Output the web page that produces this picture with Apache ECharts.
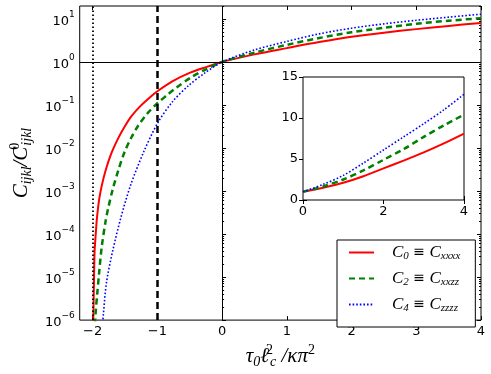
<!DOCTYPE html>
<html>
<head>
<meta charset="utf-8">
<script src="https://cdn.jsdelivr.net/npm/echarts@6/dist/echarts.min.js"></script>
<style>
html, body { margin: 0; padding: 0; background: #fff; }
#chart { width: 491px; height: 374px; }
</style>
</head>
<body>
<div id="chart"></div>
<script>
// values
var redX = [-1.993, -1.99, -1.98, -1.97, -1.95, -1.935, -1.9, -1.86, -1.8, -1.71, -1.6, -1.5, -1.4, -1.26, -1.1, -1.0, -0.77, -0.52, -0.27, 0, 0.5, 1, 1.5, 2, 2.5, 3, 3.5, 4];
var redY = [7.9e-7, 1.12e-6, 7.6e-6, 4.0e-5, 1.12e-4, 2.24e-4, 6.3e-4, 1.32e-3, 3.0e-3, 7.6e-3, 0.0174, 0.0324, 0.055, 0.0955, 0.158, 0.209, 0.355, 0.543, 0.741, 1, 1.5, 2.1, 2.9, 3.85, 4.8, 5.8, 6.9, 8.1];

var greenX = [-1.965, -1.95, -1.93, -1.9, -1.86, -1.8, -1.76, -1.69, -1.6, -1.51, -1.4, -1.3, -1.15, -1.0, -0.85, -0.72, -0.47, -0.25, 0, 0.5, 1, 1.5, 2, 2.5, 3, 3.5, 4];
var greenY = [7.9e-7, 1.78e-6, 3.98e-6, 1.26e-5, 5.0e-5, 2.0e-4, 3.98e-4, 1.1e-3, 3.16e-3, 7.9e-3, 0.0178, 0.0324, 0.0646, 0.11, 0.17, 0.245, 0.447, 0.676, 1, 1.65, 2.5, 3.6, 4.9, 6.2, 7.7, 9.1, 10.4];

var blueX = [-1.85, -1.835, -1.786, -1.687, -1.564, -1.415, -1.217, -1.0, -0.77, -0.52, -0.27, 0, 0.5, 1, 1.5, 2, 2.5, 3, 3.5, 4];
var blueY = [7.1e-7, 1.32e-6, 7.6e-6, 4.27e-5, 2.4e-4, 1.35e-3, 7.76e-3, 0.0372, 0.1175, 0.282, 0.55, 1, 1.9, 3.0, 4.5, 6.1, 7.7, 9.3, 11.0, 12.9];

var seriesNames = ['C0', 'C2', 'C4'];
var legendText = {
  C0: '{i|C}{s|0}{r| ≡ }{i|C}{s|xxxx}',
  C2: '{i|C}{s|2}{r| ≡ }{i|C}{s|xxzz}',
  C4: '{i|C}{s|4}{r| ≡ }{i|C}{s|zzzz}'
};

var xTicks = [-2, -1, 0, 1, 2, 3, 4];
var yDecades = [1e-6, 1e-5, 1e-4, 1e-3, 1e-2, 1e-1, 1, 10];
var insetXTicks = [0, 2, 4];
var insetYTicks = [0, 5, 10, 15];
var refX = [-2, -1, 0];
var refY = 1;

var yMinor = [];
yDecades.forEach(function (d) {
  for (var k = 2; k <= 9; k++) {
    if (k * d <= 20) yMinor.push(k * d);
  }
});

function pairs(xs, ys) {
  return xs.map(function (x, i) { return [x, ys[i]]; });
}
function positive(xs, ys) {
  return pairs(xs, ys).filter(function (p) { return p[0] >= 0; });
}

var myChart = echarts.init(document.getElementById('chart'), null, { renderer: 'canvas' });

var mathRich = {
  i: { fontFamily: 'Liberation Serif', fontStyle: 'italic', fontSize: 21, lineHeight: 26, color: '#000' },
  sub: { fontFamily: 'Liberation Serif', fontStyle: 'italic', fontSize: 14, lineHeight: 14, verticalAlign: 'bottom', color: '#000' },
  sup: { fontFamily: 'Liberation Serif', fontSize: 14, lineHeight: 14, verticalAlign: 'top', color: '#000' },
  supz: { fontFamily: 'Liberation Serif', fontSize: 14, lineHeight: 14, verticalAlign: 'top', width: 1, color: '#000' }
};

function logLabel(v) {
  var e = Math.round(Math.log10(v));
  return '{b|10}{e|' + String(e).replace('-', '\u2212') + '}';
}

function tickAxis(gridIndex, type, pos, min, max, ticks, len, extra) {
  var a = {
    type: type,
    gridIndex: gridIndex,
    position: pos,
    min: min,
    max: max,
    axisLine: { show: false },
    splitLine: { show: false },
    axisLabel: { show: false },
    axisTick: { show: true, inside: true, length: len, customValues: ticks, lineStyle: { color: '#000', width: 1 } }
  };
  if (type === 'log') a.logBase = 10;
  return Object.assign(a, extra || {});
}

var lineStyles = [
  { color: '#ff0000', width: 2, type: 'solid' },
  { color: '#008000', width: 2.5, type: [6, 4] },
  { color: '#0000ff', width: 1.6, type: [1.6, 2] }
];
var mainData = [pairs(redX, redY), pairs(greenX, greenY), pairs(blueX, blueY)];
var insetData = [positive(redX, redY), positive(greenX, greenY), positive(blueX, blueY)];

var series = [];
seriesNames.forEach(function (name, i) {
  var s = {
    name: name,
    type: 'line',
    xAxisIndex: 0,
    yAxisIndex: 0,
    data: mainData[i],
    symbol: 'none',
    smooth: 0.3,
    clip: true,
    color: lineStyles[i].color,
    lineStyle: lineStyles[i],
    z: 3
  };
  if (i === 0) {
    s.markLine = {
      silent: true,
      symbol: 'none',
      label: { show: false },
      animation: false,
      data: [
        { xAxis: refX[0], lineStyle: { color: '#000', width: 1.8, type: [1.5, 2.5] } },
        { xAxis: refX[1], lineStyle: { color: '#000', width: 2.5, type: [7, 4] } },
        { xAxis: refX[2], lineStyle: { color: '#000', width: 1, type: 'solid' } },
        { yAxis: refY, lineStyle: { color: '#000', width: 1, type: 'solid' } }
      ]
    };
  }
  series.push(s);
});
seriesNames.forEach(function (name, i) {
  series.push({
    name: name,
    type: 'line',
    xAxisIndex: 2,
    yAxisIndex: 4,
    data: insetData[i],
    symbol: 'none',
    smooth: 0.3,
    color: lineStyles[i].color,
    lineStyle: lineStyles[i],
    z: 5
  });
});

var option = {
  animation: false,
  backgroundColor: '#fff',
  grid: [
    { left: 63, right: 10, top: 6, bottom: 45, show: true, borderColor: '#000', borderWidth: 1, backgroundColor: 'transparent' },
    { left: 303, width: 161, top: 77, height: 123, show: true, borderColor: '#000', borderWidth: 1, backgroundColor: '#fff', z: 4 }
  ],
  legend: {
    data: seriesNames,
    orient: 'vertical',
    left: 337,
    top: 240,
    padding: [4, 15, 13, 11],
    itemGap: 8,
    itemWidth: 25,
    itemHeight: 14,
    itemStyle: { opacity: 0 },
    backgroundColor: '#fff',
    borderColor: '#000',
    borderWidth: 1,
    borderRadius: 0,
    z: 10,
    formatter: function (name) { return legendText[name]; },
    textStyle: {
      padding: [0, 0, 0, 13],
      rich: {
        i: { fontFamily: 'Liberation Serif', fontStyle: 'italic', fontSize: 17, lineHeight: 19, color: '#000' },
        r: { fontFamily: 'DejaVu Sans', fontSize: 14, lineHeight: 19, color: '#000' },
        s: { fontFamily: 'Liberation Serif', fontStyle: 'italic', fontSize: 11, lineHeight: 11, verticalAlign: 'bottom', color: '#000' }
      }
    }
  },
  xAxis: [
    tickAxis(0, 'value', 'bottom', -2.2, 4, xTicks, 4, {
      axisLabel: {
        show: true, margin: 5, customValues: xTicks,
        formatter: function (v) { return String(v).replace('-', '\u2212'); },
        fontFamily: 'DejaVu Sans', fontSize: 13, color: '#000'
      },
      name: '{i|τ}{sub|0}{i|ℓ}{supz|2}{sub|c}{i| /κπ}{sup|2}',
      nameLocation: 'middle',
      nameGap: 19,
      nameTextStyle: { rich: mathRich }
    }),
    tickAxis(0, 'value', 'top', -2.2, 4, xTicks, 4),
    tickAxis(1, 'value', 'bottom', 0, 4, insetXTicks, 4, {
      axisLabel: { show: true, margin: 5, customValues: insetXTicks, fontFamily: 'DejaVu Sans', fontSize: 13, color: '#000' }
    }),
    tickAxis(1, 'value', 'top', 0, 4, insetXTicks, 4)
  ],
  yAxis: [
    tickAxis(0, 'log', 'left', 1e-6, 20, yDecades, 4, {
      axisLabel: {
        show: true, margin: 5, customValues: yDecades,
        formatter: logLabel,
        rich: {
          b: { fontFamily: 'DejaVu Sans', fontSize: 13, lineHeight: 18, verticalAlign: 'bottom', color: '#000' },
          e: { fontFamily: 'DejaVu Sans', fontSize: 9, lineHeight: 10, verticalAlign: 'top', color: '#000' }
        }
      },
      name: '{i|C}{sub|ijkl}{i|/C}{supz|0}{sub|ijkl}',
      nameLocation: 'middle',
      nameRotate: 90,
      nameGap: 35,
      nameTextStyle: { rich: mathRich }
    }),
    tickAxis(0, 'log', 'left', 1e-6, 20, yMinor, 2),
    tickAxis(0, 'log', 'right', 1e-6, 20, yDecades, 4),
    tickAxis(0, 'log', 'right', 1e-6, 20, yMinor, 2),
    tickAxis(1, 'value', 'left', 0, 15, insetYTicks, 4, {
      axisLabel: { show: true, margin: 5, customValues: insetYTicks, fontFamily: 'DejaVu Sans', fontSize: 13, color: '#000' }
    }),
    tickAxis(1, 'value', 'right', 0, 15, insetYTicks, 4)
  ],
  series: series
};

myChart.setOption(option);
</script>
</body>
</html>
